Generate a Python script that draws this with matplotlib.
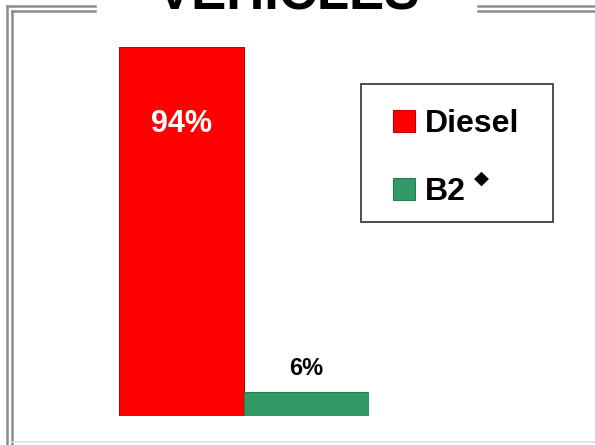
import matplotlib
matplotlib.use('Agg')
import matplotlib.pyplot as plt
from matplotlib.patches import Rectangle
from matplotlib.lines import Line2D

plt.rcParams['font.family'] = ['Liberation Sans', 'DejaVu Sans']
plt.rcParams['font.weight'] = 'bold'

# data
fuels = ['Diesel', 'B2']
shares = [94, 6]
colors = ['#ff0000', '#339966']
edges = ['#c00000', '#2a7a52']
title = 'VEHICLES'

W, H = 595, 445
fig = plt.figure(figsize=(W / 100, H / 100), dpi=100)

def fx(px):
    return px / W

def fy(py):
    return 1 - py / H

# double gray frame (cut off like the slide)
frame_col = '#8c8c8c'
for off in (0, 5):
    x0, y0 = 7 + off, 6 + off
    fig.add_artist(Line2D([fx(x0), fx(x0)], [fy(y0), fy(445)], color=frame_col, lw=1.8))
    fig.add_artist(Line2D([fx(x0), fx(95)], [fy(y0), fy(y0)], color=frame_col, lw=1.8))
    fig.add_artist(Line2D([fx(478), fx(595)], [fy(y0), fy(y0)], color=frame_col, lw=1.8))
fig.add_artist(Line2D([fx(12), fx(595)], [fy(442), fy(442)], color='#dddddd', lw=1.2))

fig.text(fx(288), fy(10), title, ha='center', va='baseline', fontsize=38,
         fontweight='bold', color='black')

ax = fig.add_axes([fx(119), fy(416), fx(250), 369 / H])
bars = ax.bar(range(len(fuels)), shares, width=1.0, color=colors,
              edgecolor=edges, linewidth=0.8)
ax.set_xlim(-0.5, 1.5)
ax.set_ylim(0, 94)
ax.axis('off')

# value labels
ax.text(0, shares[0] - 19.5, f'{shares[0]}%', ha='center', va='center',
        color='white', fontsize=22, fontweight='bold')
ax.text(1, shares[1] + 6, f'{shares[1]}%', ha='center', va='center',
        color='black', fontsize=17, fontweight='bold')

# legend box
fig.add_artist(Rectangle((fx(361), fy(222)), fx(192), 138 / H, transform=fig.transFigure,
                         facecolor='white', edgecolor='#404040', lw=1.3))
leg = fig.legend(bars, fuels, loc='upper left', bbox_to_anchor=(fx(393), fy(109)),
                 frameon=False, fontsize=23, handlelength=0.68, handleheight=0.68,
                 handletextpad=0.33, labelspacing=1.2, borderpad=0, borderaxespad=0)

fig.canvas.draw()
bb = leg.get_texts()[1].get_window_extent()
fig.text(bb.x1 / W + fx(8), fy(178), '\u25c6', family=['DejaVu Sans'],
         fontsize=14, ha='left', va='center', color='black')

fig.savefig('out.png', dpi=100)
